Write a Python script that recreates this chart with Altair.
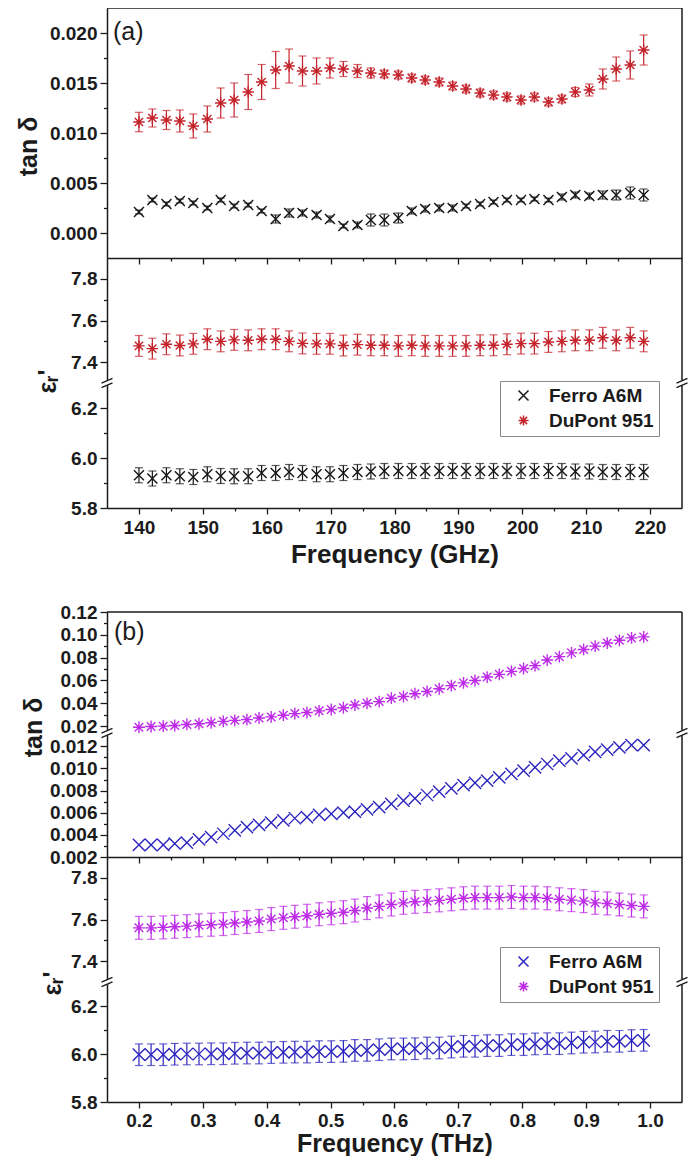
import altair as alt
import pandas as pd

FERRO = "Ferro A6M"
DUPONT = "DuPont 951"
SERIES = [FERRO, DUPONT]

# ---------------- panel (a): 140-220 GHz ----------------
freq_ghz = [140.0, 142.1, 144.3, 146.4, 148.5, 150.7, 152.8, 154.9, 157.1, 159.2,
            161.4, 163.5, 165.6, 167.8, 169.9, 172.0, 174.2, 176.3, 178.4, 180.6,
            182.7, 184.8, 187.0, 189.1, 191.2, 193.4, 195.5, 197.6, 199.8, 201.9,
            204.1, 206.2, 208.3, 210.5, 212.6, 214.7, 216.9, 219.0]
tan_ferro_ghz = [0.0021, 0.0033, 0.0029, 0.0032, 0.0030, 0.0025, 0.0033, 0.0027, 0.0028, 0.0022,
                 0.0014, 0.0020, 0.0020, 0.0018, 0.0014, 0.0007, 0.0008, 0.0013, 0.0013, 0.0015,
                 0.0022, 0.0024, 0.0025, 0.0025, 0.0027, 0.0029, 0.0031, 0.0033, 0.0033, 0.0034,
                 0.0033, 0.0036, 0.0038, 0.0037, 0.0038, 0.0038, 0.0040, 0.0038]
tan_ferro_ghz_err = [0.0002, 0.0002, 0.0002, 0.0002, 0.0002, 0.0002, 0.0002, 0.0002, 0.0002, 0.0002,
                     0.0004, 0.0004, 0.0003, 0.0003, 0.0003, 0.0002, 0.0003, 0.0006, 0.0006, 0.0005,
                     0.0003, 0.0003, 0.0003, 0.0003, 0.0002, 0.0002, 0.0002, 0.0002, 0.0002, 0.0002,
                     0.0002, 0.0003, 0.0003, 0.0003, 0.0004, 0.0005, 0.0006, 0.0006]
tan_dupont_ghz = [0.0111, 0.0115, 0.0113, 0.0112, 0.0107, 0.0114, 0.0130, 0.0133, 0.0141, 0.0151,
                  0.0163, 0.0167, 0.0162, 0.0162, 0.0165, 0.0164, 0.0162, 0.0160, 0.0159, 0.0158,
                  0.0155, 0.0153, 0.0151, 0.0147, 0.0144, 0.0140, 0.0138, 0.0136, 0.0133, 0.0136,
                  0.0131, 0.0134, 0.0141, 0.0143, 0.0154, 0.0164, 0.0168, 0.0183]
tan_dupont_ghz_err = [0.00097, 0.0009, 0.00095, 0.0011, 0.0012, 0.0013, 0.0015, 0.0017, 0.00175, 0.00175,
                      0.00185, 0.0017, 0.0015, 0.0013, 0.0010, 0.00075, 0.00065, 0.0005, 0.0004, 0.0004,
                      0.0004, 0.0004, 0.0004, 0.0004, 0.0004, 0.0004, 0.0004, 0.0004, 0.0004, 0.0004,
                      0.0004, 0.0004, 0.00045, 0.0006, 0.0010, 0.0012, 0.0014, 0.0015]
eps_ferro_ghz = [5.931, 5.918, 5.931, 5.927, 5.924, 5.935, 5.928, 5.927, 5.927, 5.940,
                 5.940, 5.944, 5.940, 5.935, 5.935, 5.940, 5.944, 5.946, 5.948, 5.948,
                 5.948, 5.948, 5.948, 5.948, 5.948, 5.948, 5.948, 5.948, 5.948, 5.948,
                 5.948, 5.948, 5.946, 5.946, 5.944, 5.944, 5.944, 5.944]
eps_dupont_ghz = [7.478, 7.465, 7.486, 7.480, 7.488, 7.510, 7.500, 7.507, 7.505, 7.510,
                  7.510, 7.500, 7.490, 7.488, 7.488, 7.480, 7.484, 7.481, 7.481, 7.478,
                  7.481, 7.478, 7.478, 7.478, 7.478, 7.481, 7.481, 7.486, 7.489, 7.489,
                  7.497, 7.500, 7.505, 7.505, 7.517, 7.505, 7.517, 7.500]
eps_ferro_ghz_err = 0.03
eps_dupont_ghz_err = 0.05

# ---------------- panel (b): 0.2-1.0 THz ----------------
freq_thz = [0.200, 0.219, 0.238, 0.256, 0.275, 0.294, 0.313, 0.332, 0.350, 0.369,
            0.388, 0.407, 0.426, 0.444, 0.463, 0.482, 0.501, 0.520, 0.538, 0.557,
            0.576, 0.595, 0.614, 0.632, 0.651, 0.670, 0.689, 0.708, 0.726, 0.745,
            0.764, 0.783, 0.802, 0.820, 0.839, 0.858, 0.877, 0.896, 0.914, 0.933,
            0.952, 0.971, 0.990]
tan_ferro_thz = [0.0031, 0.0031, 0.0031, 0.0032, 0.0033, 0.0036, 0.0038, 0.0041, 0.0044, 0.0047,
                 0.0049, 0.0051, 0.0053, 0.0055, 0.0056, 0.0058, 0.0059, 0.0060, 0.0061, 0.0063,
                 0.0065, 0.0068, 0.0071, 0.0073, 0.0076, 0.0079, 0.0082, 0.0085, 0.0087, 0.0089,
                 0.0092, 0.0095, 0.0098, 0.0101, 0.0104, 0.0107, 0.0109, 0.0112, 0.0115, 0.0117,
                 0.0119, 0.0121, 0.0121]
tan_dupont_thz = [0.0191, 0.0197, 0.0200, 0.0206, 0.0215, 0.0221, 0.0230, 0.0242, 0.0251, 0.0257,
                  0.0272, 0.0281, 0.0296, 0.0310, 0.0319, 0.0334, 0.0346, 0.0361, 0.0385, 0.0400,
                  0.0415, 0.0445, 0.0460, 0.0484, 0.0504, 0.0528, 0.0555, 0.0579, 0.0600, 0.0630,
                  0.0654, 0.0680, 0.0705, 0.0730, 0.0779, 0.0809, 0.0842, 0.0872, 0.0901, 0.0928,
                  0.0952, 0.0973, 0.0982]
eps_ferro_thz = [5.997, 5.997, 5.997, 5.999, 6.000, 6.000, 6.001, 6.001, 6.003, 6.004,
                 6.004, 6.006, 6.007, 6.008, 6.008, 6.010, 6.010, 6.011, 6.015, 6.015,
                 6.018, 6.021, 6.021, 6.022, 6.025, 6.025, 6.029, 6.032, 6.032, 6.035,
                 6.035, 6.039, 6.039, 6.042, 6.043, 6.043, 6.046, 6.049, 6.050, 6.053,
                 6.053, 6.056, 6.057]
eps_dupont_thz = [7.560, 7.560, 7.562, 7.565, 7.568, 7.572, 7.575, 7.578, 7.583, 7.588,
                  7.593, 7.602, 7.608, 7.613, 7.618, 7.625, 7.630, 7.635, 7.643, 7.655,
                  7.663, 7.672, 7.680, 7.685, 7.688, 7.692, 7.697, 7.702, 7.705, 7.705,
                  7.705, 7.708, 7.705, 7.705, 7.702, 7.697, 7.693, 7.688, 7.680, 7.677,
                  7.672, 7.667, 7.663]
eps_ferro_thz_err = 0.045
eps_dupont_thz_err = 0.055

# ---------------- tick values ----------------
ghz_major = [140, 150, 160, 170, 180, 190, 200, 210, 220]
ghz_minor = [145, 155, 165, 175, 185, 195, 205, 215]
thz_major = [0.2, 0.3, 0.4, 0.5, 0.6, 0.7, 0.8, 0.9, 1.0]
thz_minor = [0.25, 0.35, 0.45, 0.55, 0.65, 0.75, 0.85, 0.95]
tan_a_major = [0.0, 0.005, 0.01, 0.015, 0.02]
tan_a_minor = [0.0025, 0.0075, 0.0125, 0.0175]
eps_hi_major = [7.4, 7.6, 7.8]
eps_hi_minor = [7.5, 7.7]
eps_lo_major = [5.8, 6.0, 6.2]
eps_lo_minor = [5.9, 6.1]
tan_bh_major = [0.02, 0.04, 0.06, 0.08, 0.1, 0.12]
tan_bh_minor = [0.03, 0.05, 0.07, 0.09, 0.11]
tan_bl_major = [0.002, 0.004, 0.006, 0.008, 0.01, 0.012]
tan_bl_minor = [0.003, 0.005, 0.007, 0.009, 0.011]

# ---------------- styling ----------------
FONT = "Liberation Sans"
INK = "#1b1b1b"
COL_A = {FERRO: "#161616", DUPONT: "#C4232B"}
COL_B = {FERRO: "#2B24BE", DUPONT: "#BD2BE8"}
XPATH = "M-1,-1L1,1M-1,1L1,-1"
STAR = "M0,-1L0,1M-1,0L1,0M-0.72,-0.72L0.72,0.72M-0.72,0.72L0.72,-0.72"
W = 575


def series_df(freq, name, vals, errs):
    rows = []
    for i, (f, v) in enumerate(zip(freq, vals)):
        e = errs[i] if isinstance(errs, list) else errs
        rows.append({"f": f, "v": v, "lo": v - e, "hi": v + e, "s": name})
    return pd.DataFrame(rows)


def deco_df(panel):
    return pd.DataFrame({"p": [panel]})


def minor_test(minor):
    return "indexof([" + ",".join(repr(m) for m in minor) + "], datum.value) >= 0"


def tick_axis(major, minor, fmt, labels=True, title=None, big=7, small=3.5, **kw):
    test = minor_test(minor)
    args = dict(
        values=sorted(major + minor),
        tickSize={"condition": {"test": test, "value": small}, "value": big},
        grid=False,
        labelOverlap=False,
        labelFlush=False,
        title=title,
    )
    if labels:
        args["labelExpr"] = test + " ? '' : format(datum.value, '" + fmt + "')"
    else:
        args["labels"] = False
    args.update(kw)
    return alt.Axis(**args)


def y_title_kw(tx, ty):
    return dict(titleX=tx, titleY=ty, titleAngle=270, titleAlign="center",
                titleBaseline="middle", titleFontSize=25)


def sub(panel, data, xdom, ydom, h, xaxis, yaxis, colors, sizes, err=True,
        legend=None, top=False, breaks=False, tag=None):
    xs = alt.Scale(domain=xdom, nice=False, zero=False)
    ys = alt.Scale(domain=ydom, nice=False, zero=False)
    deco = deco_df(panel)
    layers = []
    names = [n for n in SERIES if n in data]
    for name in names:
        d = data[name]
        if err:
            layers.append(alt.Chart(d).mark_rule(color=colors[name], strokeWidth=1.2).encode(
                x=alt.X("f:Q", scale=xs, axis=xaxis),
                y=alt.Y("lo:Q", scale=ys, axis=yaxis),
                y2="hi:Q"))
            for fld in ("lo", "hi"):
                layers.append(alt.Chart(d).mark_tick(color=colors[name], orient="horizontal",
                                                     size=8, thickness=1.2).encode(
                    x=alt.X("f:Q", scale=xs, axis=xaxis),
                    y=alt.Y(fld + ":Q", scale=ys, axis=yaxis)))
    color_kw = dict(scale=alt.Scale(domain=SERIES, range=[colors[s] for s in SERIES]))
    shape_kw = dict(scale=alt.Scale(domain=SERIES, range=[XPATH, STAR]))
    color_kw["legend"] = legend
    shape_kw["legend"] = legend
    for name in names:
        layers.append(alt.Chart(data[name]).mark_point(
            filled=False, size=sizes[name], strokeWidth=1.4, opacity=1).encode(
            x=alt.X("f:Q", scale=xs, axis=xaxis),
            y=alt.Y("v:Q", scale=ys, axis=yaxis),
            color=alt.Color("s:N", **color_kw),
            shape=alt.Shape("s:N", **shape_kw)))
    layers.append(alt.Chart(deco).mark_rule(color=INK, strokeWidth=1.5).encode(
        x=alt.value(W), y=alt.value(0), y2=alt.value(h)))
    if top:
        layers.append(alt.Chart(deco).mark_rule(color=INK, strokeWidth=1.5).encode(
            x=alt.value(0), x2=alt.value(W), y=alt.value(0)))
    if breaks:
        for x in (0, W):
            layers.append(alt.Chart(deco).mark_rule(color="white", strokeWidth=5).encode(
                x=alt.value(x - 3.5), x2=alt.value(x + 3.5), y=alt.value(1.5), y2=alt.value(-1.5)))
            for dy in (-2.3, 2.3):
                layers.append(alt.Chart(deco).mark_rule(color=INK, strokeWidth=1.4).encode(
                    x=alt.value(x - 5.5), x2=alt.value(x + 5.5),
                    y=alt.value(dy + 2.4), y2=alt.value(dy - 2.4)))
    if tag is not None:
        layers.append(alt.Chart(pd.DataFrame({"t": [tag[0]]})).mark_text(
            font=FONT, fontSize=25, color=INK, align="left", baseline="middle").encode(
            text="t:N", x=alt.value(tag[1]), y=alt.value(tag[2])))
    return alt.layer(*layers).properties(width=W, height=h)


def legend(lx, ly):
    return alt.Legend(orient="none", legendX=lx, legendY=ly, title=None,
                      strokeColor="#8a8a8a", fillColor="white", padding=5,
                      symbolOffset=9, labelOffset=16, rowPadding=5,
                      labelFont=FONT, labelFontSize=19, labelFontWeight="bold",
                      labelColor=INK, symbolSize=100, symbolStrokeWidth=1.5)


XA = [135, 225]
XB = [0.15, 1.05]
SIZE_A = {FERRO: 100, DUPONT: 130}
SIZE_B = {FERRO: 150, DUPONT: 140}

xa_inner = tick_axis(ghz_major, ghz_minor, "d", labels=False, big=6, small=3)
xa_bottom = tick_axis(ghz_major, ghz_minor, "d", title="Frequency (GHz)", big=6, small=3,
                      titleFontSize=26, titlePadding=4, labelPadding=4)
xb_inner = tick_axis(thz_major, thz_minor, ".1f", labels=False, big=6, small=3)
xb_bottom = tick_axis(thz_major, thz_minor, ".1f", title="Frequency (THz)", big=6, small=3,
                      titleFontSize=25, titlePadding=1, labelPadding=3)

tanA = sub("tanA",
           {FERRO: series_df(freq_ghz, FERRO, tan_ferro_ghz, tan_ferro_ghz_err),
            DUPONT: series_df(freq_ghz, DUPONT, tan_dupont_ghz, tan_dupont_ghz_err)},
           XA, [-0.0025, 0.0225], 250, xa_inner,
           tick_axis(tan_a_major, tan_a_minor, ".3f", title="tan δ", **y_title_kw(-79, 138)),
           COL_A, SIZE_A, top=True, tag=("(a)", 6, 24))
epsA_hi = sub("epsA_hi",
              {DUPONT: series_df(freq_ghz, DUPONT, eps_dupont_ghz, eps_dupont_ghz_err)},
              XA, [7.3, 7.9], 125, None,
              tick_axis(eps_hi_major, eps_hi_minor, ".1f"),
              COL_A, SIZE_A, legend=legend(393, 123))
epsA_lo = sub("epsA_lo",
              {FERRO: series_df(freq_ghz, FERRO, eps_ferro_ghz, eps_ferro_ghz_err)},
              XA, [5.8, 6.3], 125, xa_bottom,
              tick_axis(eps_lo_major, eps_lo_minor, ".1f", title="εᵣ'", **y_title_kw(-60, -2)),
              COL_A, SIZE_A, breaks=True)

spacer = alt.Chart(deco_df("spacer")).mark_point(opacity=0).encode(
    x=alt.value(0), y=alt.value(50)).properties(width=W, height=104)

tanB_hi = sub("tanB_hi",
              {DUPONT: series_df(freq_thz, DUPONT, tan_dupont_thz, 0.0)},
              XB, [0.014, 0.12], 121, None,
              tick_axis(tan_bh_major, tan_bh_minor, ".2f"),
              COL_B, SIZE_B, err=False, top=True, tag=("(b)", 7, 20))
tanB_lo = sub("tanB_lo",
              {FERRO: series_df(freq_thz, FERRO, tan_ferro_thz, 0.0)},
              XB, [0.002, 0.0132], 124, xb_inner,
              tick_axis(tan_bl_major, tan_bl_minor, ".3f", title="tan δ", **y_title_kw(-74, -6)),
              COL_B, SIZE_B, err=False, breaks=True)
epsB_hi = sub("epsB_hi",
              {DUPONT: series_df(freq_thz, DUPONT, eps_dupont_thz, eps_dupont_thz_err)},
              XB, [7.3, 7.9], 125, None,
              tick_axis(eps_hi_major, eps_hi_minor, ".1f"),
              COL_B, SIZE_B, legend=legend(393, 90))
epsB_lo = sub("epsB_lo",
              {FERRO: series_df(freq_thz, FERRO, eps_ferro_thz, eps_ferro_thz_err)},
              XB, [5.8, 6.3], 120, xb_bottom,
              tick_axis(eps_lo_major, eps_lo_minor, ".1f", title="εᵣ'", **y_title_kw(-55, 1)),
              COL_B, SIZE_B, breaks=True)

chart = alt.vconcat(tanA, epsA_hi, epsA_lo, spacer, tanB_hi, tanB_lo, epsB_hi, epsB_lo,
                    spacing=0, bounds="flush").resolve_scale(
    x="independent", y="independent", color="independent", shape="independent"
).resolve_legend(color="independent", shape="independent").properties(
    padding={"left": 8, "top": -1, "right": 0, "bottom": 0}
).configure_view(stroke=None).configure_axis(
    labelFont=FONT, labelFontWeight="bold", labelFontSize=19, labelColor=INK,
    labelPadding=3, titleFont=FONT, titleFontWeight="bold", titleColor=INK,
    domainColor=INK, domainWidth=1.5, tickColor=INK, tickWidth=1.3, grid=False
)

chart.save("out.html", embed_options={"renderer": "svg", "actions": False})
